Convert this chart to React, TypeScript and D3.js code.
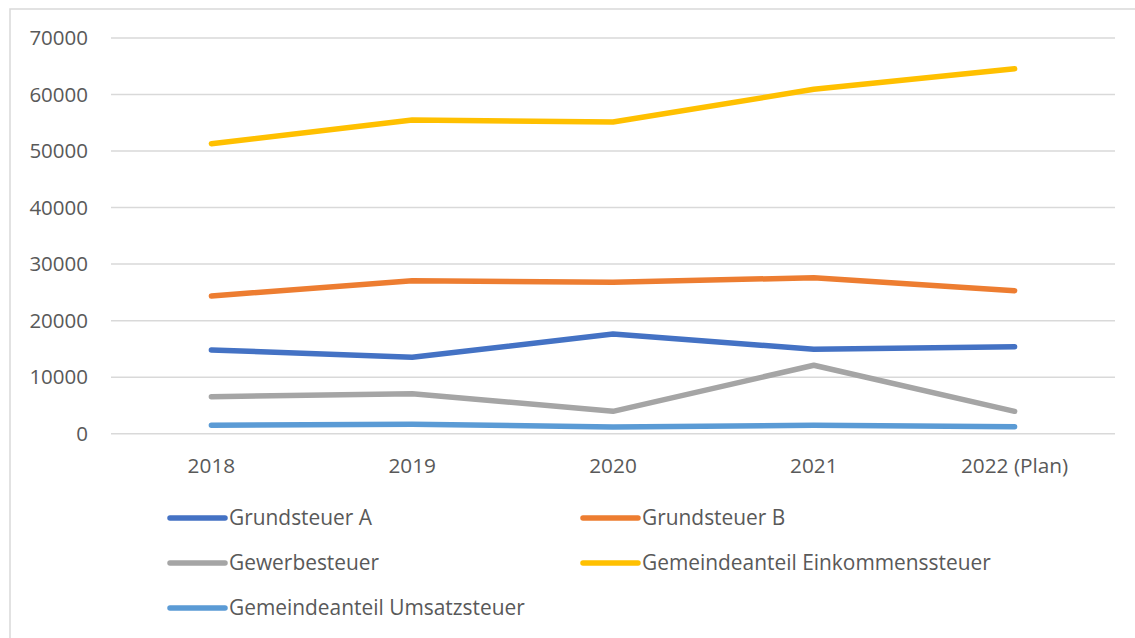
import React from 'react';
import * as d3 from 'd3';

// Kategorien (Jahre)
const years = ['2018', '2019', '2020', '2021', '2022 (Plan)'];

// Werte je Steuerart
const grundsteuerA = [14810, 13510, 17640, 14930, 15390];
const grundsteuerB = [24360, 27070, 26780, 27600, 25300];
const gewerbesteuer = [6550, 7080, 3960, 12100, 3960];
const einkommensteuer = [51300, 55500, 55150, 60920, 64570];
const umsatzsteuer = [1490, 1660, 1190, 1490, 1240];

const yTicks = [0, 10000, 20000, 30000, 40000, 50000, 60000, 70000];

const series = [
  { name: 'Grundsteuer A', values: grundsteuerA, color: '#4472C4' },
  { name: 'Grundsteuer B', values: grundsteuerB, color: '#ED7D31' },
  { name: 'Gewerbesteuer', values: gewerbesteuer, color: '#A5A5A5' },
  { name: 'Gemeindeanteil Einkommenssteuer', values: einkommensteuer, color: '#FFC000' },
  { name: 'Gemeindeanteil Umsatzsteuer', values: umsatzsteuer, color: '#5B9BD5' },
];

const W = 1135;
const H = 638;
const font = '"Open Sans", "Liberation Sans", sans-serif';
const textColor = '#595959';

export default function App() {
  const x = d3.scaleBand().domain(years).range([111, 1115]);
  const y = d3.scaleLinear().domain([0, 70000]).range([433.7, 38]);

  const line = d3.line<number>()
    .x((d, i) => x(years[i])! + x.bandwidth() / 2)
    .y((d) => y(d));

  // Legende: zwei Spalten
  const legendX = [170, 583];
  const legendY = [518, 563, 608];

  return (
    <div style={{ position: 'fixed', left: 0, top: 0 }}>
      <svg width={W} height={H} style={{ display: 'block', fontFamily: font }}>
        <rect x={0} y={0} width={W} height={H} fill="#ffffff" />
        <rect x={10} y={9} width={W + 10} height={H + 10} fill="none" stroke="#d9d9d9" strokeWidth={1.5} />

        {/* Gitterlinien */}
        {yTicks.map((t) => (
          <g key={t}>
            <line x1={111} x2={1115} y1={y(t)} y2={y(t)} stroke="#d9d9d9" strokeWidth={1.5} />
            <text x={88} y={y(t)} dy="0.35em" textAnchor="end" fontSize={20.5} fill={textColor}>
              {t}
            </text>
          </g>
        ))}

        {/* X-Achse Beschriftung */}
        {years.map((yr) => (
          <text key={yr} x={x(yr)! + x.bandwidth() / 2} y={466} dy="0.35em" textAnchor="middle" fontSize={20.8} fill={textColor}>
            {yr}
          </text>
        ))}

        {/* Linien */}
        {series.map((s) => (
          <path key={s.name} d={line(s.values) || ''} fill="none" stroke={s.color} strokeWidth={5.5}
            strokeLinecap="round" strokeLinejoin="round" />
        ))}

        {/* Legende */}
        {series.map((s, i) => {
          const lx = legendX[i % 2];
          const ly = legendY[Math.floor(i / 2)];
          return (
            <g key={s.name}>
              <line x1={lx} x2={lx + 55} y1={ly} y2={ly} stroke={s.color} strokeWidth={5.5} strokeLinecap="round" />
              <text x={lx + 59} y={ly} dy="0.35em" fontSize={20.9} fill={textColor}>{s.name}</text>
            </g>
          );
        })}
      </svg>
    </div>
  );
}
